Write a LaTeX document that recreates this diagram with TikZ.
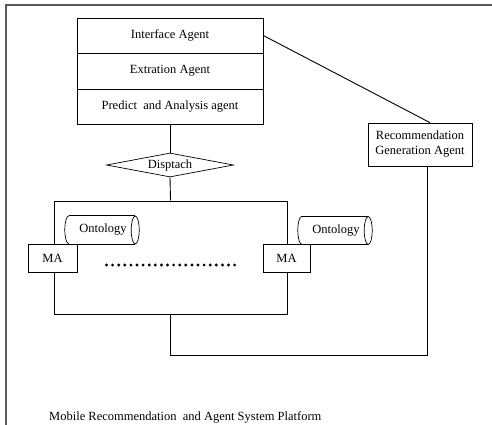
\documentclass[tikz,border=0pt]{standalone}
\usepackage{fontspec}
\setmainfont{Liberation Serif}
\usetikzlibrary{shapes.geometric,calc}
\begin{document}
\begin{tikzpicture}[x=1pt,y=-1pt,
  every node/.style={font=\fontsize{12.5}{15}\selectfont, inner sep=0pt},
  boxst/.style={draw, line width=0.7pt, rectangle, align=center},
  conn/.style={line width=0.9pt},
  onto/.style={rectangle, minimum width=74pt, minimum height=28pt},
  ontoline/.style={line width=0.7pt},
  frame/.style={line width=1.2pt, black!65}]
\useasboundingbox (0,0) rectangle (492,425);
% outer frame (cropped)
\draw[frame] (6,425) -- (6,5) -- (492,5);
% agent stack
\node[boxst, minimum width=186pt, minimum height=35pt] (ia) at (170,35.5) {Interface Agent};
\node[boxst, minimum width=186pt, minimum height=36pt] (ea) at (170,71) {Extration Agent};
\node[boxst, minimum width=186pt, minimum height=35pt] (pa) at (170,106.5) {Predict\ \ and Analysis agent};
% dispatch
\node[draw, line width=0.7pt, diamond, aspect=5, minimum width=127pt, minimum height=24pt] (dp) at (170,165) {Disptach};
% big rectangle
\node[draw, line width=1pt, rectangle, minimum width=233pt, minimum height=113pt] (bx) at (170.5,257.5) {};
% ontologies
\foreach \o/\p in {o1/{(102,230)}, o2/{(335,230.5)}} {
  \node[onto] (\o) at \p {\hspace*{2pt}Ontology};
  \draw[ontoline] ($(\o.north west)+(4pt,0)$) -- ($(\o.north east)+(-4pt,0)$);
  \draw[ontoline] ($(\o.south west)+(4pt,0)$) -- ($(\o.south east)+(-4pt,0)$);
  \draw[ontoline] ($(\o.north west)+(4pt,0)$) arc[start angle=90, end angle=270, x radius=4pt, y radius=14pt];
  \draw[ontoline] ($(\o.east)+(-4pt,0)$) ellipse[x radius=4pt, y radius=14pt];
}
% MA boxes
\node[boxst, fill=white, minimum width=49pt, minimum height=28pt] (ma1) at (52.5,258) {MA};
\node[boxst, fill=white, minimum width=47pt, minimum height=28pt] (ma2) at (286.5,258) {MA};
% dots
\foreach \i in {0,...,21} \fill (106.5+\i*6.1,265) circle (1.6pt);
% recommendation
\node[boxst, minimum width=104pt, minimum height=43pt] (rg) at (420,144.5) {Recommendation\\Generation Agent};
% caption
\node[anchor=base west] (cap) at (49,420) {Mobile Recommendation\ \ and Agent System Platform};
% connectors
\coordinate (bend) at (427,355);
\draw[conn] (ia.east) -- ([xshift=10pt]rg.north);
\draw[conn] (pa.south) -- (dp.north);
\draw[conn] (dp.south) -- (bx.north);
\draw[conn] ([xshift=7pt]rg.south) -- (bend) -| (bx.south);
\end{tikzpicture}
\end{document}
